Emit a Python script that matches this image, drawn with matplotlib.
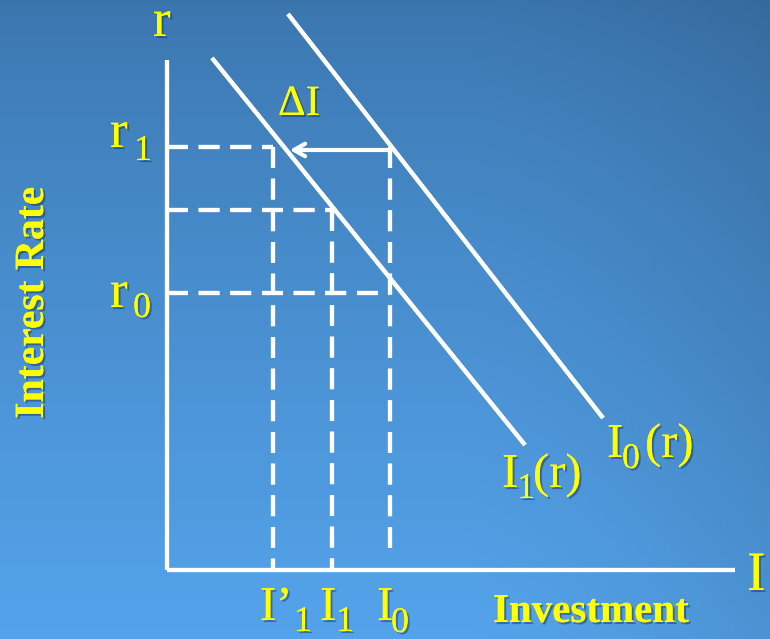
import matplotlib
matplotlib.use("Agg")
import matplotlib.pyplot as plt
import matplotlib.patheffects as pe
import numpy as np

plt.rcParams['font.family'] = ['Liberation Serif', 'DejaVu Serif']

# investment (x) and interest rate (r) in chart units, origin at the axes corner
inv_axis_end = 568
rate_axis_top = 510

i1_curve_x = [45, 358]
i1_curve_r = [512, 125]
i0_curve_x = [121, 436]
i0_curve_r = [556, 152]

rate_levels = [423, 360, 277]          # r1, middle, r0
inv_levels = [106, 165, 223]           # I'1, I1, I0
inv_drop_top = [423, 360, 423]
inv_drop_bottom = [0, 0, 22]
rate_dash_end = [106, 165, 223]

arrow_from = (223, 420)
arrow_to = (120, 420)

yellow = '#ffff00'
shadow = [pe.withSimplePatchShadow(offset=(1.5, -1.5), shadow_rgbFace='#0d2f55', alpha=0.45), pe.Normal()]
lshadow = [pe.withSimplePatchShadow(offset=(1.5, -1.5), shadow_rgbFace='#1c4d80', alpha=0.5), pe.Normal()]

fig = plt.figure(figsize=(7.7, 6.39), dpi=100)
ax = fig.add_axes([0, 0, 1, 1])
ax.set_xlim(-167, 603)
ax.set_ylim(-69, 570)
ax.axis('off')

# background gradient
h, w = 200, 200
yy, xx = np.mgrid[0:1:h * 1j, 0:1:w * 1j]
top = np.array([0.23, 0.46, 0.68])
bot = np.array([0.33, 0.64, 0.92])
t = yy[..., None] ** 0.8
bg = top * (1 - t) + bot * t
dark = 1 - 0.10 * np.clip((xx - 0.6) / 0.4, 0, 1)[..., None] ** 1.5
bg = bg * dark
ax.imshow(bg, extent=(-167, 603, -69, 570), origin='upper', aspect='auto', zorder=0)

# axes
ax.plot([0, 0], [0, rate_axis_top], color='white', lw=3, solid_capstyle='butt', path_effects=lshadow, zorder=3)
ax.plot([0, inv_axis_end], [0, 0], color='white', lw=3, solid_capstyle='butt', path_effects=lshadow, zorder=3)

# dashed guides
for r, xe in zip(rate_levels, rate_dash_end):
    ax.plot([0, xe], [r, r], color='white', lw=3, dashes=(5, 2.6), path_effects=lshadow, zorder=2)
for x, rt, rb in zip(inv_levels, inv_drop_top, inv_drop_bottom):
    ax.plot([x, x], [rt, rb], color='white', lw=3, dashes=(5, 2.6), path_effects=lshadow, zorder=2)

# investment curves
ax.plot(i1_curve_x, i1_curve_r, color='white', lw=3, solid_capstyle='butt', path_effects=lshadow, zorder=3)
ax.plot(i0_curve_x, i0_curve_r, color='white', lw=3, solid_capstyle='butt', path_effects=lshadow, zorder=3)

ax.annotate('', xy=arrow_to, xytext=arrow_from,
            arrowprops=dict(arrowstyle='->,head_length=0.8,head_width=0.45', color='white', lw=3), zorder=4)

def label(x, y, s, size=35, **kw):
    ax.text(x, y, s, color=yellow, fontsize=size, ha='left', va='baseline',
            path_effects=shadow, zorder=5, **kw)

label(-14, 534, 'r', size=38)
# r1 and r0
label(-57, 423, 'r', size=38)
label(-33, 410, '1', size=26)
label(-57, 263, 'r', size=38)
label(-34, 253, '0', size=26)
# investment ticks
label(93, -50, 'I\u2019')
label(127, -61, '1', size=26)
label(153, -50, 'I')
label(169, -61, '1', size=26)
label(210, -50, 'I')
label(224, -62, '0', size=26)
# curve labels
label(335, 83, 'I')
label(350, 72, '1', size=26)
label(366, 83, '(r)')
label(440, 113, 'I')
label(455, 102, '0', size=26)
label(478, 113, '(r)')

label(111, 455, '\u0394I', size=31)
label(326, -52, 'Investment', size=29.5, fontweight='bold')
label(580, -20, 'I', size=40)
ax.text(-134, 267, 'Interest Rate', color=yellow, fontsize=30, fontweight='bold', rotation=90,
        ha='center', va='center', path_effects=shadow, zorder=5)

fig.savefig('out.png', dpi=100)
